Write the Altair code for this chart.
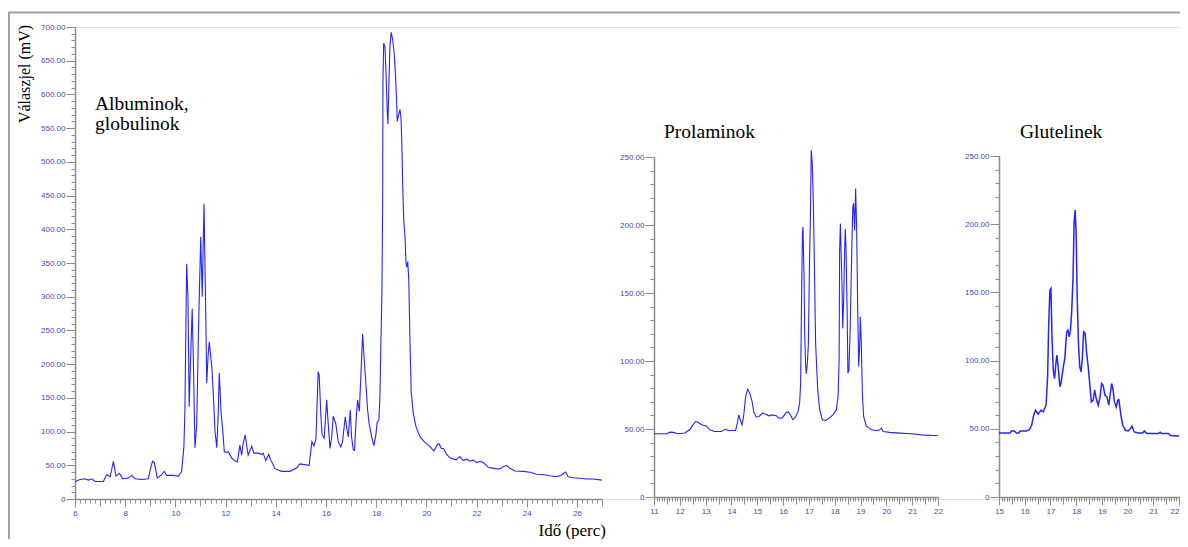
import altair as alt
import pandas as pd

# ---------------- data ----------------
alb_t = [6.0, 6.2, 6.4, 6.53, 6.67, 6.8, 7.13, 7.26, 7.4, 7.53, 7.63, 7.77, 7.9, 8.12, 8.26, 8.4,
         8.66, 8.92, 9.0, 9.09, 9.16, 9.28, 9.45, 9.56, 9.65, 9.92, 10.12, 10.25, 10.34, 10.38,
         10.42, 10.45, 10.5, 10.55, 10.6, 10.67, 10.72, 10.78, 10.85, 10.92, 11.01, 11.07, 11.14,
         11.2, 11.25, 11.3, 11.35, 11.45, 11.51, 11.58, 11.65, 11.7, 11.75, 11.82, 11.88, 11.95,
         12.04, 12.11, 12.24, 12.35, 12.47, 12.57, 12.64, 12.7, 12.78, 12.9, 13.04, 13.13, 13.3,
         13.44, 13.5, 13.6, 13.72, 13.8, 13.97, 14.23, 14.56, 14.83, 14.96, 15.33, 15.44, 15.52,
         15.6, 15.69, 15.73, 15.8, 15.85, 15.93, 16.03, 16.08, 16.16, 16.23, 16.29, 16.39, 16.49,
         16.59, 16.66, 16.77, 16.84, 16.89, 16.97, 17.02, 17.09, 17.14, 17.2, 17.26, 17.33, 17.39,
         17.46, 17.52, 17.59, 17.66, 17.72, 17.82, 17.91, 17.99, 18.04, 18.11, 18.15, 18.19, 18.23,
         18.26, 18.27, 18.3, 18.35, 18.39, 18.44, 18.47, 18.51, 18.55, 18.6, 18.66, 18.72, 18.78,
         18.82, 18.84, 18.9, 18.95, 18.99, 19.02, 19.06, 19.1, 19.15, 19.19, 19.22, 19.26, 19.3,
         19.35, 19.4, 19.48, 19.59, 19.75, 19.94, 20.14, 20.3, 20.44, 20.51, 20.6, 20.68, 20.81,
         20.94, 21.18, 21.34, 21.47, 21.61, 21.74, 21.87, 22.0, 22.14, 22.27, 22.47, 22.73, 22.93,
         23.06, 23.2, 23.33, 23.53, 23.86, 24.13, 24.39, 24.73, 24.92, 25.19, 25.39, 25.55, 25.65,
         25.85, 26.12, 26.39, 26.65, 27.0]
alb_v = [26, 29, 30, 28, 30, 26, 26, 36, 33, 56, 34, 38, 30, 31, 35, 30,
         29, 30, 44, 56, 54, 31, 36, 41, 35, 35, 34, 41, 78, 133,
         260, 349, 300, 137, 200, 282, 200, 76, 110, 250, 389, 300, 438,
         300, 172, 210, 233, 196, 157, 100, 76, 120, 187, 128, 105, 70,
         69, 70, 61, 57, 55, 80, 65, 82, 95, 65, 78, 68, 68,
         66, 68, 57, 66, 58, 45, 41, 41, 46, 52, 50, 85, 79,
         88, 189, 184, 122, 95, 90, 147, 117, 75, 92, 123, 112, 85,
         77, 85, 122, 102, 92, 132, 92, 73, 72, 117, 147, 130, 181,
         245, 209, 172, 132, 112, 92, 79, 95, 114, 117, 152, 231, 305,
         444, 617, 676, 671, 636, 577, 556, 617, 671, 692, 681, 661, 622,
         587, 560, 570, 578, 565, 533, 463, 414, 389, 350, 344, 352, 325,
         231, 157, 127, 107, 92, 84, 78, 71, 81, 82, 75, 75, 66,
         61, 58, 63, 57, 59, 56, 58, 54, 56, 54, 47, 45, 44.5,
         48, 50, 45.5, 41.5, 41, 39.6, 36.6, 36, 34.6, 33, 35.6, 40, 33,
         31.6, 30.7, 29.7, 29.7, 28]

pro_t = [11.0, 11.48, 11.63, 11.74, 11.93, 12.19, 12.38, 12.51, 12.61, 12.7, 12.87, 13.03, 13.16,
         13.35, 13.61, 13.78, 13.87, 14.16, 14.23, 14.28, 14.34, 14.41, 14.47, 14.55, 14.63, 14.71,
         14.8, 14.86, 14.96, 15.07, 15.2, 15.33, 15.45, 15.58, 15.74, 15.84, 15.97, 16.1, 16.19,
         16.28, 16.38, 16.49, 16.58, 16.64, 16.68, 16.72, 16.75, 16.77, 16.81, 16.84, 16.87, 16.9,
         16.94, 16.98, 17.02, 17.06, 17.09, 17.13, 17.17, 17.21, 17.26, 17.34, 17.42, 17.52, 17.65,
         17.78, 17.93, 18.06, 18.13, 18.17, 18.19, 18.22, 18.24, 18.28, 18.31, 18.35, 18.39, 18.41,
         18.44, 18.48, 18.51, 18.55, 18.6, 18.66, 18.7, 18.73, 18.77, 18.81, 18.85, 18.89, 18.93,
         18.97, 18.99, 19.03, 19.07, 19.12, 19.22, 19.42, 19.68, 19.77, 19.81, 19.87, 20.13, 20.52,
         20.97, 21.36, 22.0]
pro_v = [46.5, 46.5, 47.7, 47.5, 46.5, 47, 49.4, 53, 55.5, 55, 53, 52.3, 49.4,
         48.2, 48.2, 49.9, 48.9, 48.9, 54.3, 60.4, 56.8, 53, 59.2, 73.9, 79.3, 76.3,
         70.2, 62.9, 58.7, 59.2, 61.6, 60.9, 59.7, 60.4, 59.7, 58, 58.2, 61.6, 62.9,
         60.4, 56.8, 59.2, 62.9, 69, 83.7, 154.6, 193.7, 198.6, 162, 118, 98.3, 90.5,
         98.3, 113, 169, 208, 254.9, 245, 218, 174, 113, 78.8, 64, 56.8, 56.3,
         58, 60.4, 64, 73.9, 100.8, 181.5, 201, 186, 157, 124, 147, 186, 197,
         181.5, 137.5, 91, 93.4, 125, 181.5, 213, 216, 196, 226.8, 196, 137.5, 95.9,
         113, 132.6, 113, 76.3, 59.2, 52.3, 49.4, 48.7, 49.9, 50.6, 48.2, 47.5, 47,
         46.5, 45.7, 45]

glu_t = [15.0, 15.44, 15.48, 15.6, 15.67, 15.77, 15.82, 16.06, 16.18, 16.27, 16.35, 16.42, 16.52,
         16.63, 16.72, 16.83, 16.89, 16.93, 16.98, 17.02, 17.06, 17.11, 17.16, 17.21, 17.25, 17.3,
         17.37, 17.42, 17.5, 17.56, 17.63, 17.68, 17.73, 17.78, 17.83, 17.88, 17.92, 17.96, 18.0,
         18.04, 18.09, 18.14, 18.19, 18.24, 18.29, 18.35, 18.41, 18.47, 18.54, 18.59, 18.66, 18.72,
         18.78, 18.86, 18.93, 18.99, 19.05, 19.12, 19.2, 19.27, 19.32, 19.38, 19.43, 19.49, 19.56,
         19.62, 19.66, 19.74, 19.81, 19.92, 20.02, 20.11, 20.17, 20.26, 20.43, 20.59, 20.65, 20.75,
         21.2, 21.27, 21.33, 21.59, 21.67, 22.0]
glu_v = [47, 47, 48.4, 48.4, 47, 47, 48.4, 48.4, 49.4, 52.6, 60, 63.6, 60.7,
         63.6, 62.4, 67.3, 88, 124.8, 151.7, 152.9, 117.4, 93, 86.8, 97.8, 104, 95.4,
         80.7, 84.4, 95.4, 101.5, 121, 122.3, 117.4, 122.3, 137, 161.4, 200.6, 210.4, 193.2,
         146.8, 112.5, 95.4, 91.7, 101.5, 121, 119.9, 105.2, 95.4, 80.7, 69.7, 70.9, 78.3,
         72.2, 67.3, 73.4, 83.2, 81.9, 74.6, 73.4, 67.3, 74.6, 83.2, 79.5, 69.7, 66,
         70.9, 71.4, 60, 52.6, 48.9, 48.4, 50.1, 51.9, 47.7, 47, 47, 48.4, 46.5,
         46.5, 47.5, 46.5, 46.5, 45, 44.8]

panel_titles = ["Albuminok,", "globulinok", "Prolaminok", "Glutelinek"]
y_title = "Válaszjel (mV)"
x_title = "Idő (perc)"

# ---------------- styling ----------------
LINE = "#2424ff"
AX = "#8c8c8c"
LAB = "#4848c0"
SERIF = "Times New Roman, Liberation Serif, Tinos, DejaVu Serif, serif"
SANS = "Liberation Sans"
YLAB = "datum.value == 0 ? '0' : format(datum.value, '.2f')"


def steps(a, b, s):
    n = int(round((b - a) / s))
    return [round(a + i * s, 3) for i in range(n + 1)]


def panel(t, v, xdom, xrng, ydom, yrng, xlab, xmid, xmin, ystep, y_off, x_off, lw, last=None):
    df = pd.DataFrame({"t": t, "v": v})
    xs = alt.Scale(domain=xdom, range=xrng, nice=False, zero=False)
    ys = alt.Scale(domain=ydom, range=yrng, nice=False, zero=False)
    common = dict(grid=False, title=None, domainColor=AX, tickColor=AX,
                  labelColor=LAB, labelFont=SANS, labelFontSize=8)
    main = alt.Chart(df).mark_line(color=LINE, strokeWidth=lw, clip=True).encode(
        x=alt.X("t:Q", scale=xs, axis=alt.Axis(orient="bottom", values=xlab, format="d",
                                               tickSize=8, labelPadding=2, domainWidth=1.5,
                                               offset=x_off, labelFlush=False, **common)),
        y=alt.Y("v:Q", scale=ys, axis=alt.Axis(orient="left", values=steps(ydom[0], ydom[1], ystep),
                                               labelExpr=YLAB, tickSize=9, labelPadding=1,
                                               domainWidth=1.5, offset=y_off, **common)),
    )
    mid = alt.Chart(df).mark_line(strokeOpacity=0).encode(
        x=alt.X("t:Q", scale=xs, axis=alt.Axis(orient="bottom", values=xmid, labels=False,
                                               domain=False, tickSize=7, offset=x_off, **common)),
        y=alt.Y("v:Q", scale=ys, axis=alt.Axis(orient="left", values=steps(ydom[0], ydom[1], 10),
                                               labels=False, domain=False, tickSize=4,
                                               offset=y_off, **common)),
    )
    minor = alt.Chart(df).mark_line(strokeOpacity=0).encode(
        x=alt.X("t:Q", scale=xs, axis=alt.Axis(orient="bottom", values=xmin, labels=False,
                                               domain=False, tickSize=4, offset=x_off, **common)),
        y=alt.Y("v:Q", scale=ys, axis=None),
    )
    out = [main, mid, minor]
    if last is not None:
        out.append(alt.Chart(df).mark_line(strokeOpacity=0).encode(
            x=alt.X("t:Q", scale=xs, axis=alt.Axis(orient="bottom", values=[last], format="d",
                                                   tickSize=8, labelPadding=2, domain=False,
                                                   labelAlign="right", labelOffset=0, offset=x_off,
                                                   labelFlush=False, **common)),
            y=alt.Y("v:Q", scale=ys, axis=None),
        ))
    return out


layers = []
layers += panel(alb_t, alb_v, [6, 27], [0, 527], [0, 700], [472, 0],
                list(range(6, 27, 2)), list(range(6, 28)), steps(6, 27, 0.2), 50, 0, 0, 1.1)
layers += panel(pro_t, pro_v, [11, 22], [579, 863], [0, 250], [470, 130],
                list(range(11, 23)), steps(11, 22, 0.5), steps(11, 22, 0.1), 50, -579, -2, 1.1)
layers += panel(glu_t, glu_v, [15, 22], [924, 1104], [0, 250], [470, 129],
                list(range(15, 22)), steps(15, 22, 0.5), steps(15, 22, 0.1), 50, -924, -2, 1.5,
                last=22)

dummy = pd.DataFrame({"d": [0]})


def label(txt, x, y, size, align="left", angle=0):
    kw = dict(font=SERIF, fontSize=size, color="black", align=align, baseline="alphabetic")
    if angle:
        kw.update(angle=angle, baseline="middle", align="center")
    return alt.Chart(dummy).mark_text(**kw).encode(
        x=alt.value(x), y=alt.value(y), text=alt.value(txt))


layers.append(label(panel_titles[0], 20, 82.5, 19.5))
layers.append(label(panel_titles[1], 20, 102.5, 19.5))
layers.append(label(panel_titles[2], 589, 110.5, 19.5))
layers.append(label(panel_titles[3], 945, 110.5, 19.5))
layers.append(label(y_title, -50, 47, 16, angle=270))
layers.append(label(x_title, 531, 509, 17, align="right"))

# outer frame (left and top edges)
layers.append(alt.Chart(dummy).mark_rule(color="#a0a0a0", strokeWidth=2).encode(
    x=alt.value(-66), y=alt.value(-14.5), y2=alt.value(530)))
layers.append(alt.Chart(dummy).mark_rule(color="#a0a0a0", strokeWidth=2).encode(
    x=alt.value(-67), x2=alt.value(1113), y=alt.value(-14.5)))

chart = alt.layer(*layers).resolve_scale(x="independent", y="independent").properties(
    width=1105, height=472,
    autosize=alt.AutoSizeParams(type="none"),
    padding={"left": 67, "top": 19, "right": 0, "bottom": 40},
).configure_view(stroke=None).configure(background="white")

chart.save("out.html", embed_options={"renderer": "svg", "actions": False})
